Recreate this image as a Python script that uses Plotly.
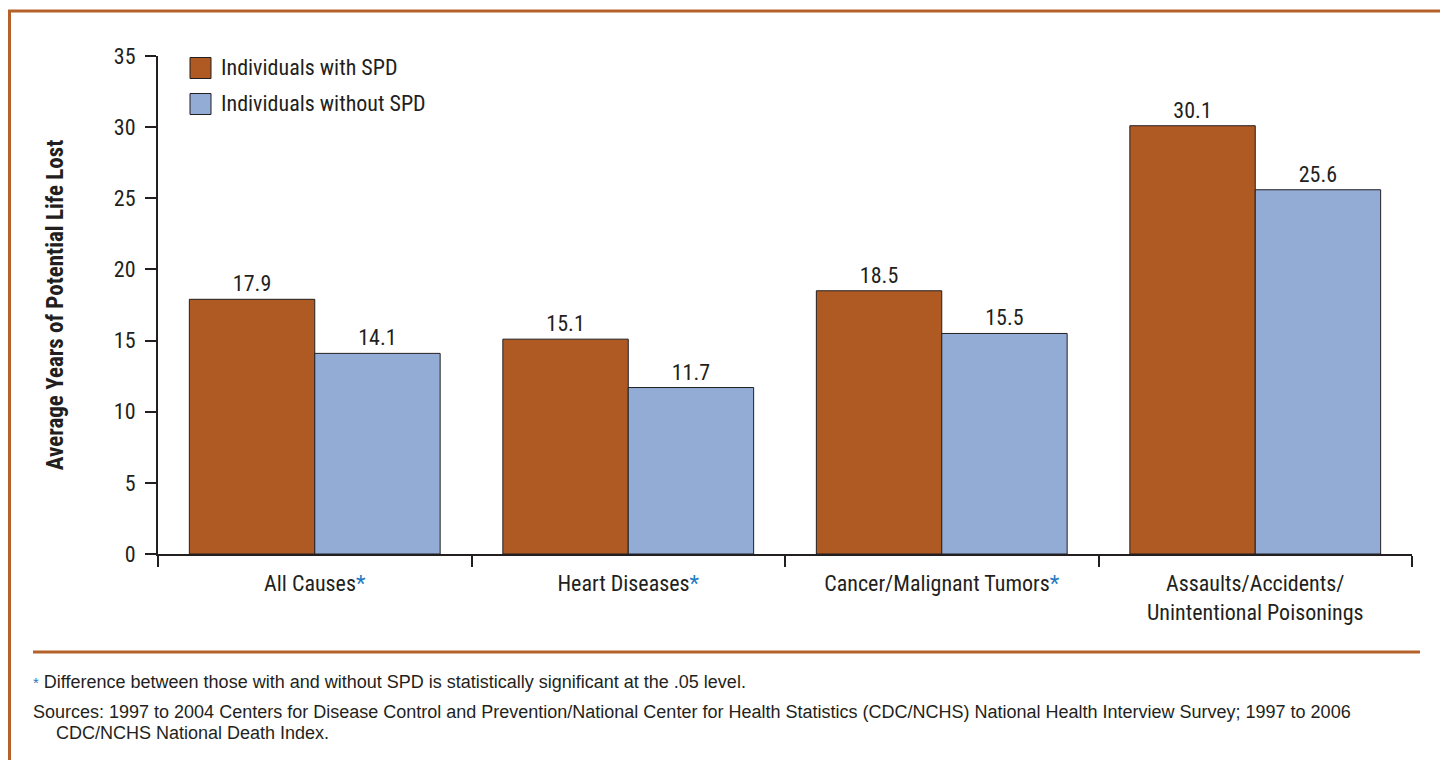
import plotly.graph_objects as go

categories = ["All Causes", "Heart Diseases", "Cancer/Malignant Tumors", "Assaults/Accidents/Unintentional Poisonings"]
tick_labels = [
    'All Causes<span style="color:#1f7bc1">*</span>',
    'Heart Diseases<span style="color:#1f7bc1">*</span>',
    'Cancer/Malignant Tumors<span style="color:#1f7bc1">*</span>',
    'Assaults/Accidents/<br>Unintentional Poisonings',
]
series_names = ["Individuals with SPD", "Individuals without SPD"]
with_spd = [17.9, 15.1, 18.5, 30.1]
without_spd = [14.1, 11.7, 15.5, 25.6]
y_ticks = [0, 5, 10, 15, 20, 25, 30, 35]

FONT = "Roboto Condensed, Liberation Sans Narrow, Arial Narrow, sans-serif"
FONT_REG = "Liberation Sans, Arial, Helvetica, sans-serif"
TXT = "#231f20"
ORANGE = "#b05a23"
BLUE = "#93acd6"
BORDER = "#b5622a"
colors = [ORANGE, BLUE]

fig = go.Figure()
for name, vals, col in zip(series_names, [with_spd, without_spd], colors):
    fig.add_trace(go.Bar(
        x=categories, y=vals, name=name,
        marker=dict(color=col, line=dict(color=TXT, width=1)),
        text=[f"{v:.1f}" for v in vals], textposition="outside",
        textfont=dict(size=22, color=TXT, family=FONT), cliponaxis=False,
    ))

# page offset (default html body margin)
OX, OY = 8, 8
W, H = 1440, 752
# plot area in page pixels
PL, PR, PT, PB = 158, 1412, 56, 554
L, R, T, B = PL - OX, OX + W - PR, PT - OY, OY + H - PB
pw, ph = PR - PL, PB - PT

def px(x):
    return (x - PL) / pw

def py(y):
    return (PB - y) / ph

fig.update_layout(
    width=W, height=H,
    margin=dict(l=L, r=R, t=T, b=B),
    paper_bgcolor="white", plot_bgcolor="white",
    barmode="group", bargap=0.2, bargroupgap=0,
    font=dict(family=FONT, color=TXT, size=22),
    showlegend=False,
    xaxis=dict(
        type="category", tickmode="array", tickvals=categories, ticktext=tick_labels,
        tickson="boundaries", ticks="outside", ticklen=11, tickwidth=2, tickcolor=TXT,
        showline=True, linecolor=TXT, linewidth=2, showgrid=False,
        tickfont=dict(size=22, color=TXT, family=FONT), ticklabelstandoff=9,
        range=[-0.5, 3.5],
    ),
    yaxis=dict(
        range=[0, 35], tickmode="array", tickvals=y_ticks,
        ticks="outside", ticklen=11, tickwidth=2, tickcolor=TXT,
        showline=True, linecolor=TXT, linewidth=2, showgrid=False, zeroline=False,
        tickfont=dict(size=22, color=TXT, family=FONT), ticklabelstandoff=5,
        title=dict(text="<b>Average Years of Potential Life Lost</b>",
                   font=dict(size=23, color=TXT, family=FONT), standoff=44),
    ),
)

# manual legend
leg_y = [68, 104]
for name, col, yy in zip(series_names, colors, leg_y):
    fig.add_shape(type="rect", xref="paper", yref="paper",
                  x0=px(190), x1=px(211), y0=py(yy - 10.5), y1=py(yy + 10.5),
                  fillcolor=col, line=dict(color=TXT, width=1))
    fig.add_annotation(xref="paper", yref="paper", x=px(219), y=py(yy), xanchor="left", yanchor="middle",
                       text=name, showarrow=False, font=dict(size=22, color=TXT, family=FONT))

# outer border
fig.add_shape(type="rect", xref="paper", yref="paper",
              x0=px(9.5), x1=px(1441.5), y0=py(800), y1=py(11),
              line=dict(color=BORDER, width=3), fillcolor="rgba(0,0,0,0)", layer="above")
# separator line
fig.add_shape(type="line", xref="paper", yref="paper",
              x0=px(33), x1=px(1420), y0=py(652), y1=py(652),
              line=dict(color=BORDER, width=3))

fig.add_annotation(xref="paper", yref="paper", x=px(31), y=py(682), xanchor="left", yanchor="middle",
                   text='<span style="color:#1f7bc1;font-size:15px">*</span> Difference between those with and without SPD is statistically significant at the .05 level.',
                   showarrow=False, font=dict(size=18, color=TXT, family=FONT_REG))
fig.add_annotation(xref="paper", yref="paper", x=px(31), y=py(712), xanchor="left", yanchor="middle",
                   text="Sources: 1997 to 2004 Centers for Disease Control and Prevention/National Center for Health Statistics (CDC/NCHS) National Health Interview Survey; 1997 to 2006",
                   showarrow=False, font=dict(size=18, color=TXT, family=FONT_REG))
fig.add_annotation(xref="paper", yref="paper", x=px(54), y=py(733), xanchor="left", yanchor="middle",
                   text="CDC/NCHS National Death Index.",
                   showarrow=False, font=dict(size=18, color=TXT, family=FONT_REG))

fig.write_html("out.html")
